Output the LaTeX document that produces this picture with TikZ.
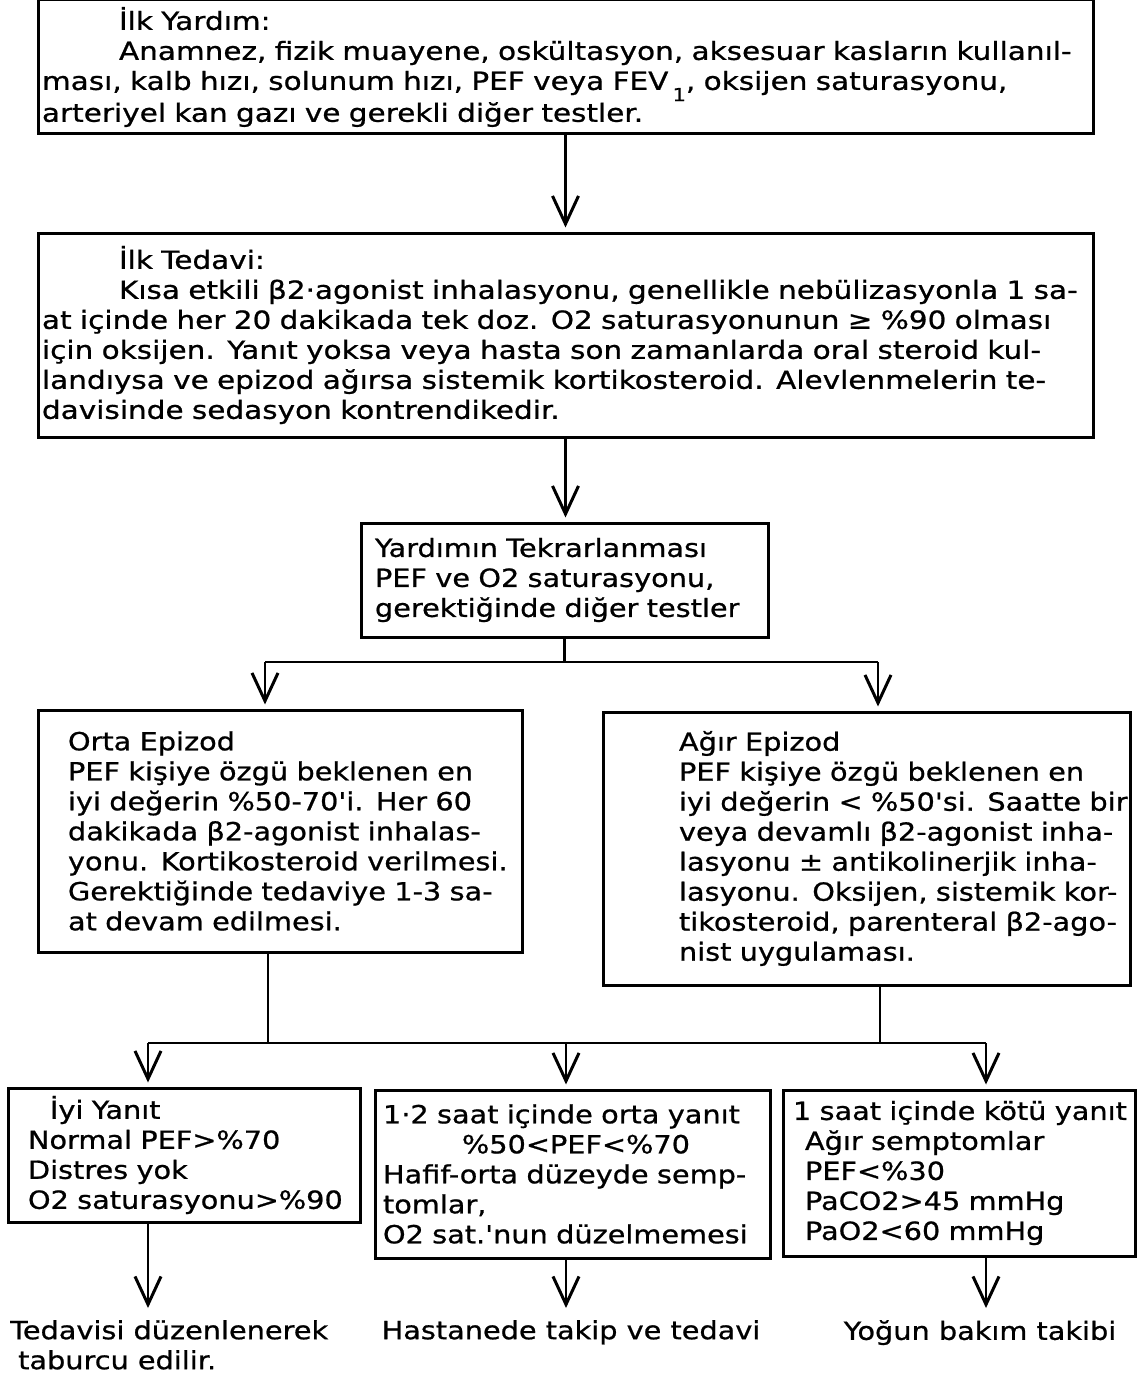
\documentclass[tikz,border=0pt]{standalone}
\usepackage{fontspec}
\newfontfamily\dvs[FakeStretch=1.18,FakeBold=0.8]{DejaVu Sans}
\newfontfamily\dvsn[FakeStretch=1.15,FakeBold=0.8]{DejaVu Sans}
\usetikzlibrary{arrows.meta}
\newcommand\lpad[1]{\leftskip=#1pt\relax\rightskip=-300pt plus 1fil\relax}
\newcommand\ind[1]{\hspace*{#1pt}}
\tikzset{
  flowbox/.style n args={2}{draw, line width=3pt, inner sep=0pt, align=left,
    text width=#1, minimum width=#1, minimum height=#2,
    font=\dvsn\fontsize{25}{30}\selectfont},
  widebox/.style={font=\dvs\fontsize{25}{30}\selectfont},
  plaintext/.style={inner sep=0pt, align=left, font=\dvsn\fontsize{25}{30}\selectfont},
  conn/.style={line width=2.5pt},
  arr/.style={conn, -{Straight Barb[length=28pt,width=26pt,line width=3pt]}, shorten >=4pt}
}
\begin{document}
\begin{tikzpicture}[x=1pt,y=-1pt]
\useasboundingbox (0,0) rectangle (1137,1378);

\node[flowbox={1055pt}{134pt}, widebox] (b1) at (565.5,67) {\lpad{4}%
\ind{77}İlk Yardım:\\
\ind{77}Anamnez, fizik muayene, oskültasyon, aksesuar kasların kullanıl-\\
ması, kalb hızı, solunum hızı, PEF veya FEV\,\raisebox{-0.45em}{\fontsize{18}{18}\selectfont 1}, oksijen saturasyonu,\\
arteriyel kan gazı ve gerekli diğer testler.\par};

\node[flowbox={1055pt}{204pt}, widebox] (b2) at (565.5,335) {\lpad{4}%
\ind{77}İlk Tedavi:\\
\ind{77}Kısa etkili β2·agonist inhalasyonu, genellikle nebülizasyonla 1 sa-\\
at içinde her 20 dakikada tek doz. O2 saturasyonunun ≥ \%90 olması\\
için oksijen. Yanıt yoksa veya hasta son zamanlarda oral steroid kul-\\
landıysa ve epizod ağırsa sistemik kortikosteroid. Alevlenmelerin te-\\
davisinde sedasyon kontrendikedir.\par};

\node[flowbox={407pt}{114pt}] (b3) at (564.5,580) {\lpad{14}%
Yardımın Tekrarlanması\\
PEF ve O2 saturasyonu,\\
gerektiğinde diğer testler\par};

\node[flowbox={484pt}{242pt}] (b4) at (280,831) {\lpad{30}%
Orta Epizod\\
PEF kişiye özgü beklenen en\\
iyi değerin \%50-70'i. Her 60\\
dakikada β2-agonist inhalas-\\
yonu. Kortikosteroid verilmesi.\\
Gerektiğinde tedaviye 1-3 sa-\\
at devam edilmesi.\par};

\node[flowbox={527pt}{273pt}] (b5) at (866.5,848.5) {\lpad{76}%
Ağır Epizod\\
PEF kişiye özgü beklenen en\\
iyi değerin < \%50'si. Saatte bir\\
veya devamlı β2-agonist inha-\\
lasyonu ± antikolinerjik inha-\\
lasyonu. Oksijen, sistemik kor-\\
tikosteroid, parenteral β2-ago-\\
nist uygulaması.\par};

\node[flowbox={352pt}{134pt}] (b6) at (184,1155) {\lpad{20}%
\ind{22}İyi Yanıt\\
Normal PEF>\%70\\
Distres yok\\
O2 saturasyonu>\%90\par};

\node[flowbox={395pt}{168pt}] (b7) at (572.5,1174) {\lpad{8}%
1·2 saat içinde orta yanıt\\
\ind{79}\%50<PEF<\%70\\
Hafif-orta düzeyde semp-\\
tomlar,\\
O2 sat.'nun düzelmemesi\par};

\node[flowbox={352pt}{166pt}] (b8) at (959,1173) {\lpad{10}%
1 saat içinde kötü yanıt\\
\ind{12}Ağır semptomlar\\
\ind{12}PEF<\%30\\
\ind{12}PaCO2>45 mmHg\\
\ind{12}PaO2<60 mmHg\par};

\node[plaintext, anchor=north west] (t1) at (10,1320) {Tedavisi düzenlenerek\\\ind{8}taburcu edilir.};
\node[plaintext, anchor=north] (t2) at (571,1320) {Hastanede takip ve tedavi};
\node[plaintext, anchor=north] (t3) at (980,1320) {Yoğun bakım takibi};

\coordinate (j1l) at (265,662);
\coordinate (j1r) at (878,662);
\coordinate (c4) at (268,1043);
\coordinate (c5) at (880,1043);
\coordinate (j2l) at (148,1043);
\coordinate (j2m) at (566,1043);
\coordinate (j2r) at (986,1043);

\draw[arr] (b1.south) -- (b2.north);
\draw[arr] (b2.south) -- (b2.south |- b3.north);
\draw[conn] (b3.south) -- (b3.south |- j1l);
\draw[conn] (j1l) -- (j1r);
\draw[arr] (j1l) -- (j1l |- b4.north);
\draw[arr] (j1r) -- (j1r |- b5.north);
\draw[conn] (c4 |- b4.south) -- (c4);
\draw[conn] (c5 |- b5.south) -- (c5);
\draw[conn] (j2l) -- (j2r);
\draw[arr] (j2l) -- (j2l |- b6.north);
\draw[arr] (j2m) -- (j2m |- b7.north);
\draw[arr] (j2r) -- (j2r |- b8.north);
\draw[arr, shorten >=12pt] (j2l |- b6.south) -- (j2l |- t1.north);
\draw[arr, shorten >=12pt] (j2m |- b7.south) -- (j2m |- t2.north);
\draw[arr, shorten >=12pt] (j2r |- b8.south) -- (j2r |- t3.north);
\end{tikzpicture}
\end{document}
